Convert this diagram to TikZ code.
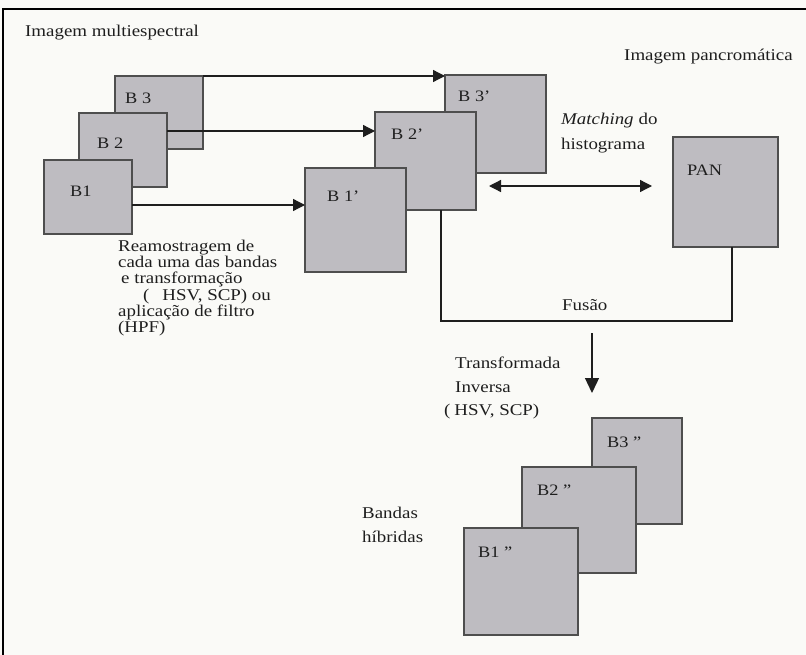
\documentclass[tikz,border=0pt]{standalone}
\usepackage{fontspec}
\setmainfont{Liberation Serif}[FakeStretch=1.15]
\usetikzlibrary{arrows.meta,calc}
\definecolor{bg}{HTML}{FAFAF7}
\definecolor{boxfill}{HTML}{BEBCC1}
\definecolor{boxline}{HTML}{4E4E4E}
\definecolor{ink}{HTML}{1E1E1E}
\begin{document}
\begin{tikzpicture}[x=1bp,y=-1bp,
  box/.style={draw=boxline, line width=1.6bp, fill=boxfill, anchor=north west,
    inner sep=0pt, outer sep=0pt},
  lbl/.style={anchor=base west, inner sep=0pt, text=ink, font=\fontsize{16}{18}\selectfont},
  txt/.style={anchor=base west, inner sep=0pt, text=ink, font=\fontsize{16.5}{18}\selectfont},
  conn/.style={draw=ink, line width=1.3bp},
  arr/.style={conn, -{Triangle[length=12bp,width=12bp]}},
  darr/.style={conn, {Triangle[length=12bp,width=12bp]}-{Triangle[length=12bp,width=12bp]}},
  bigarr/.style={conn, -{Triangle[length=15bp,width=14bp]}}
]
\fill[bg] (0,0) rectangle (806,655);
\useasboundingbox (0,0) rectangle (806,655);
\draw[black, line width=2bp] (3,655) -- (3,9) -- (806,9);

% multispectral bands
\node[box, minimum width=88bp, minimum height=73bp] (b3) at (115,76) {};
\node[box, minimum width=88bp, minimum height=74bp] (b2) at (79,113) {};
\node[box, minimum width=88bp, minimum height=74bp] (b1) at (44,160) {};
\node[lbl] (l3) at ($(b3.north west)+(10,28)$) {B 3};
\node[lbl] (l2) at ($(b2.north west)+(18,36)$) {B 2};
\node[lbl] (l1) at ($(b1.north west)+(26,36)$) {B1};

% resampled bands
\node[box, minimum width=101bp, minimum height=98bp] (b3p) at (445,75) {};
\node[box, minimum width=101bp, minimum height=98bp] (b2p) at (375,112) {};
\node[box, minimum width=101bp, minimum height=104bp] (b1p) at (305,168) {};
\node[lbl] (l3p) at ($(b3p.north west)+(13,27)$) {B 3’};
\node[lbl] (l2p) at ($(b2p.north west)+(16,28)$) {B 2’};
\node[lbl] (l1p) at ($(b1p.north west)+(22,33)$) {B 1’};

% panchromatic
\node[box, minimum width=105bp, minimum height=110bp] (pan) at (673,137) {};
\node[lbl] (lpan) at ($(pan.north west)+(14,38)$) {PAN};

% hybrid bands
\node[box, minimum width=90bp, minimum height=106bp] (c3) at (592,418) {};
\node[box, minimum width=114bp, minimum height=106bp] (c2) at (522,467) {};
\node[box, minimum width=114bp, minimum height=107bp] (c1) at (464,528) {};
\node[lbl] (lc3) at ($(c3.north west)+(15,29)$) {B3 "};
\node[lbl] (lc2) at ($(c2.north west)+(15,28)$) {B2 "};
\node[lbl] (lc1) at ($(c1.north west)+(14,29)$) {B1 "};

% connectors
\coordinate (a2) at ($(b2.north east)+(0,18)$);
\coordinate (a1) at ($(b1.north east)+(0,45)$);
\draw[arr] (b3.north east) -- (b3.north east -| b3p.west);
\draw[arr] (a2) -- (a2 -| b2p.west);
\draw[arr] (a1) -- (a1 -| b1p.west);

\coordinate (m1) at ($(b2p.south east)+(13,-24)$);
\coordinate (m2) at ($(m1 -| pan.west)+(-21,0)$);
\draw[darr] (m1) -- (m2);

\coordinate (f1) at ($(b2p.south west)+(66,0)$);
\coordinate (f2) at ($(pan.south west)+(59,0)$);
\coordinate (f3) at ($(f2)+(0,74)$);
\draw[conn] (f1) |- (f3) -- (f2);

\coordinate (d1) at (592,333);
\coordinate (d2) at (592,393);
\draw[bigarr] (d1) -- (d2);

% texts
\node[txt] (t1) at (25,37) {Imagem multiespectral};
\node[txt] (t2) at (624,61) {Imagem pancromática};
\node[txt] (t3) at (561,125) {\textit{Matching}\hspace{5bp}do};
\node[txt] (t4) at (561,150) {histograma};
\node[txt] (t5) at (562,310) {Fusão};
\node[txt] (r1) at (118,251) {Reamostragem de};
\node[txt] (r2) at (118,267) {cada uma das bandas};
\node[txt] (r3) at (121,283) {e transformação};
\node[txt] (r4) at (143,300) {(\hspace{13bp}HSV, SCP) ou};
\node[txt] (r5) at (118,316) {aplicação de filtro};
\node[txt] (r6) at (118,332) {(HPF)};
\node[txt] (i1) at (455,368) {Transformada};
\node[txt] (i2) at (455,392) {Inversa};
\node[txt] (i3) at (444,415) {(\hspace{4bp}HSV, SCP)};
\node[txt] (h1) at (362,518) {Bandas};
\node[txt] (h2) at (362,542) {híbridas};
\end{tikzpicture}
\end{document}
